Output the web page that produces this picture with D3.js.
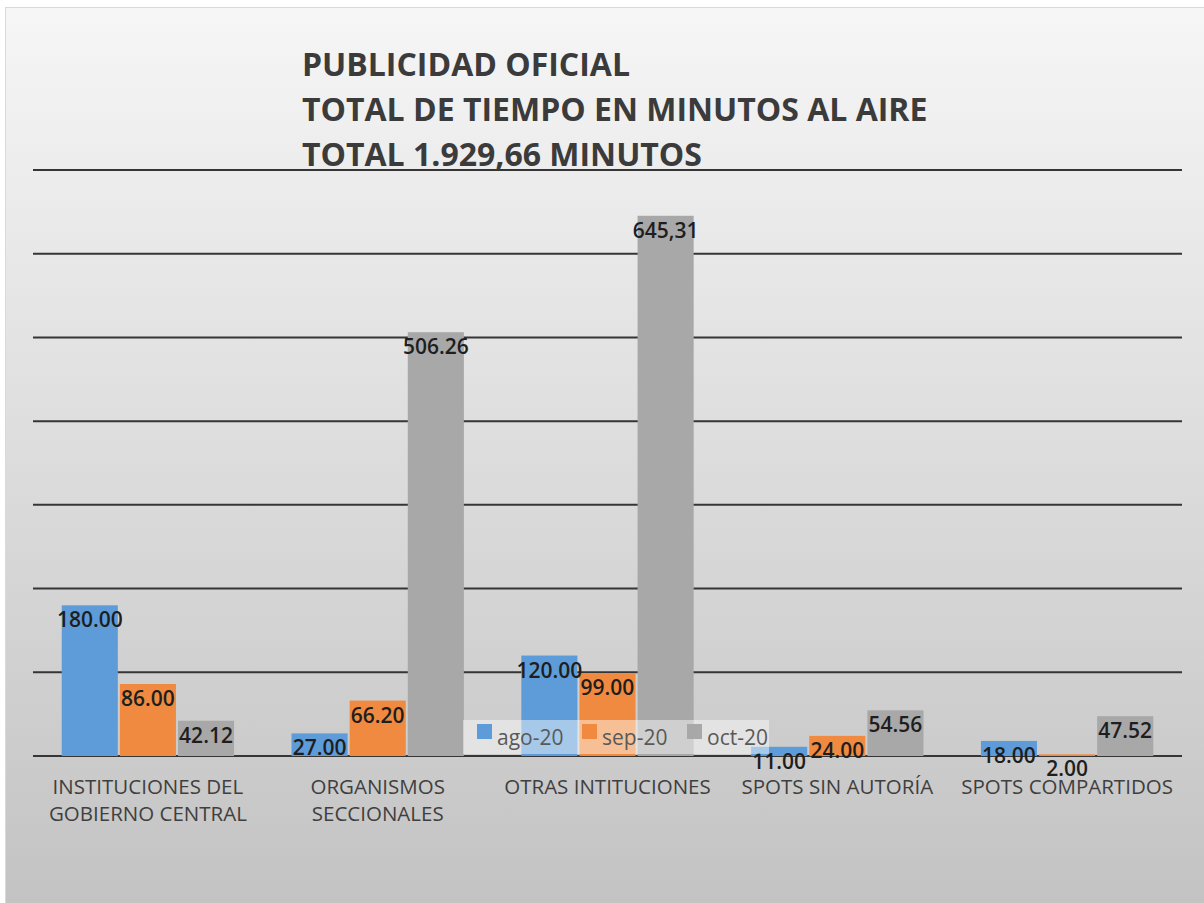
<!DOCTYPE html>
<html>
<head>
<meta charset="utf-8">
<script src="https://cdn.jsdelivr.net/npm/d3@7"></script>
<style>
  body { margin: 0; background: #fff; }
  text { font-family: "Open Sans", sans-serif; }
</style>
</head>
<body>
<script>
const width = 1204;
const height = 903;

const categories = [
  ['INSTITUCIONES DEL', 'GOBIERNO CENTRAL'],
  ['ORGANISMOS', 'SECCIONALES'],
  ['OTRAS INTITUCIONES'],
  ['SPOTS SIN AUTORÍA'],
  ['SPOTS COMPARTIDOS']
];
const seriesNames = ['ago-20', 'sep-20', 'oct-20'];
const ago20 = [180.00, 27.00, 120.00, 11.00, 18.00];
const sep20 = [86.00, 66.20, 99.00, 24.00, 2.00];
const oct20 = [42.12, 506.26, 645.31, 54.56, 47.52];
// labels as printed on the chart (one uses a comma)
const labelsAgo = ['180.00', '27.00', '120.00', '11.00', '18.00'];
const labelsSep = ['86.00', '66.20', '99.00', '24.00', '2.00'];
const labelsOct = ['42.12', '506.26', '645,31', '54.56', '47.52'];
const yTicks = [0, 100, 200, 300, 400, 500, 600, 700];
const titleLines = ['PUBLICIDAD OFICIAL', 'TOTAL DE TIEMPO EN MINUTOS AL AIRE', 'TOTAL 1.929,66 MINUTOS'];

const colors = ['#5d9cd8', '#ef8a40', '#a8a8a8'];
const values = [ago20, sep20, oct20];
const labels = [labelsAgo, labelsSep, labelsOct];

const data = categories.map((c, i) => ({
  key: i,
  lines: c,
  bars: seriesNames.map((s, j) => ({ s: j, value: values[j][i], label: labels[j][i] }))
}));

function init() {
  const svg = d3.select('body')
    .append('svg')
    .attr('width', width)
    .attr('height', height);

  const grad = svg.append('defs')
    .append('linearGradient')
    .attr('id', 'bg')
    .attr('x1', 0).attr('y1', 0).attr('x2', 0).attr('y2', 1);
  grad.append('stop').attr('offset', '0%').attr('stop-color', '#f6f6f6');
  grad.append('stop').attr('offset', '100%').attr('stop-color', '#c3c3c3');

  svg.append('rect')
    .attr('x', 5.5)
    .attr('y', 7.5)
    .attr('width', width - 5)
    .attr('height', height - 7)
    .attr('fill', 'url(#bg)')
    .attr('stroke', '#d9d9d9');

  const x0 = d3.scaleBand()
    .domain(data.map(d => d.key))
    .range([33, 1182])
    .paddingInner(0.25)
    .paddingOuter(0.125);

  const x1 = d3.scaleBand()
    .domain(d3.range(seriesNames.length))
    .range([0, x0.bandwidth()])
    .paddingInner(0.035);

  const y = d3.scaleLinear()
    .domain([0, 700])
    .range([756, 170]);

  // gridlines
  svg.append('g')
    .selectAll('line')
    .data(yTicks)
    .join('line')
    .attr('x1', 33)
    .attr('x2', 1182)
    .attr('y1', d => y(d))
    .attr('y2', d => y(d))
    .attr('stroke', '#353535')
    .attr('stroke-width', 2);

  // title
  svg.append('g')
    .selectAll('text')
    .data(titleLines)
    .join('text')
    .attr('x', 302)
    .attr('y', (d, i) => 76 + i * 45)
    .attr('fill', '#3b3b3b')
    .attr('font-size', 32)
    .attr('font-weight', 700)
    .text(d => d);

  const groups = svg.append('g')
    .selectAll('g')
    .data(data)
    .join('g')
    .attr('transform', d => `translate(${x0(d.key)},0)`);

  groups.selectAll('rect')
    .data(d => d.bars)
    .join('rect')
    .attr('x', d => x1(d.s))
    .attr('y', d => y(d.value))
    .attr('width', x1.bandwidth())
    .attr('height', d => y(0) - y(d.value))
    .attr('fill', d => colors[d.s]);

  // legend (sits over the bars, translucent)
  const legend = svg.append('g');
  legend.append('rect')
    .attr('x', 463)
    .attr('y', 720)
    .attr('width', 306)
    .attr('height', 34)
    .attr('fill', '#ffffff')
    .attr('opacity', 0.45);
  const items = legend.selectAll('g')
    .data(seriesNames)
    .join('g')
    .attr('transform', (d, i) => `translate(${477 + i * 105},724)`);
  items.append('rect')
    .attr('width', 15)
    .attr('height', 15)
    .attr('fill', (d, i) => colors[i]);
  items.append('text')
    .attr('x', 20)
    .attr('y', 21)
    .attr('font-size', 21)
    .attr('fill', '#595959')
    .text(d => d);

  // data labels
  groups.selectAll('text.lbl')
    .data(d => d.bars)
    .join('text')
    .attr('class', 'lbl')
    .attr('x', d => x1(d.s) + x1.bandwidth() / 2)
    .attr('y', d => y(d.value) + 22)
    .attr('text-anchor', 'middle')
    .attr('font-size', 21)
    .attr('font-weight', 600)
    .attr('fill', '#1e1e1e')
    .text(d => d.label);

  // category labels
  groups.selectAll('text.cat')
    .data(d => d.lines)
    .join('text')
    .attr('class', 'cat')
    .attr('x', x0.bandwidth() / 2)
    .attr('y', (d, i) => 794 + i * 27)
    .attr('text-anchor', 'middle')
    .attr('font-size', 20.5)
    .attr('fill', '#3f3f3f')
    .text(d => d);
}

init();
</script>
</body>
</html>
